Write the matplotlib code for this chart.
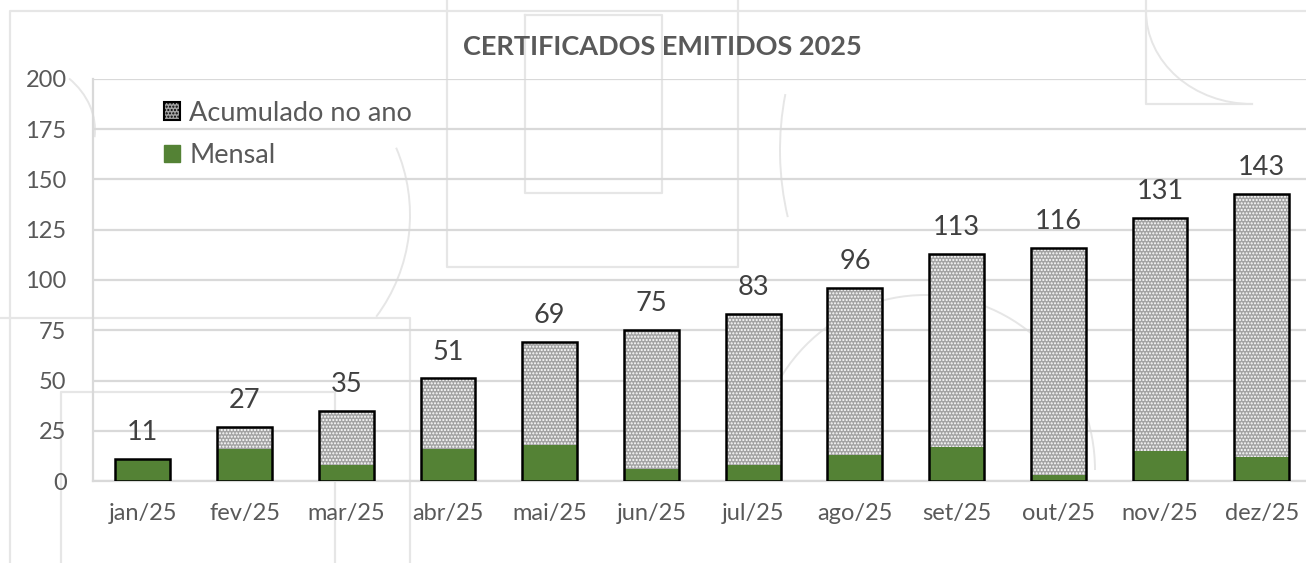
import numpy as np
import matplotlib.pyplot as plt
from matplotlib.lines import Line2D
from matplotlib.patches import Arc, Patch

# data
months = ["jan/25", "fev/25", "mar/25", "abr/25", "mai/25", "jun/25",
          "jul/25", "ago/25", "set/25", "out/25", "nov/25", "dez/25"]
acumulado = [11, 27, 35, 51, 69, 75, 83, 96, 113, 116, 131, 143]
mensal = [11, 16, 8, 16, 18, 6, 8, 13, 17, 3, 15, 12]
yticks = [0, 25, 50, 75, 100, 125, 150, 175, 200]

TXT = "#595959"
GRID = "#d9d9d9"
WM = "#e6e6e6"
GREEN = "#548235"
HATCH_BG = "#a3a3a3"
W, H = 1306, 563

plt.rcParams["font.family"] = ["Lato", "DejaVu Sans"]
plt.rcParams["hatch.linewidth"] = 1.0

fig = plt.figure(figsize=(W / 100, H / 100), dpi=100)
fig.patch.set_facecolor("white")


def px(x, y):
    return x / W, 1 - y / H


def wm_line(pts):
    xs, ys = zip(*[px(x, y) for x, y in pts])
    fig.add_artist(Line2D(xs, ys, transform=fig.transFigure, color=WM,
                          lw=1.6, zorder=-1))


def wm_arc(cx, cy, rx, ry, t1, t2):
    c = px(cx, cy)
    fig.add_artist(Arc(c, 2 * rx / W, 2 * ry / H, theta1=t1, theta2=t2,
                       transform=fig.transFigure, color=WM, lw=1.4, zorder=-1))


# faint watermark in the background
wm_line([(10, 563), (10, 11), (1306, 11)])
wm_line([(447, 0), (447, 267), (738, 267), (738, 0)])
wm_line([(525, 15), (662, 15), (662, 193), (525, 193), (525, 15)])
wm_line([(0, 318), (410, 318), (410, 563)])
wm_line([(61, 563), (61, 392), (335, 392), (335, 563)])
wm_line([(1146, 0), (1146, 104), (1252, 104)])
wm_arc(1252, 11, 106, 93, 180, 270)
wm_arc(1010, 150, 230, 260, 150, 215)
wm_arc(925, 470, 170, 175, 0, 180)
wm_arc(240, 215, 170, 170, -60, 45)
wm_arc(0, 130, 95, 75, -10, 60)

# plot area
x0, y0 = px(93, 481)
x1, y1 = px(1306, 79)
ax = fig.add_axes([x0, y0, x1 - x0, y1 - y0])
ax.patch.set_visible(False)

x = np.arange(len(months))
bw = 0.54
ax.bar(x, acumulado, width=bw, color=HATCH_BG, edgecolor="white",
       hatch=".....", lw=0, zorder=2)
ax.bar(x, mensal, width=bw, color=GREEN, lw=0, zorder=3)
ax.bar(x, acumulado, width=bw, facecolor="none", edgecolor="black",
       lw=1.8, zorder=4)

for xi, v in zip(x, acumulado):
    ax.annotate(str(v), (xi, v), xytext=(0, 19), textcoords="offset points",
                ha="center", va="center", fontsize=19.5, color="#404040")

ax.set_xlim(-0.49, 11.435)
ax.set_ylim(0, 200)
ax.set_yticks(yticks)
ax.set_xticks(x)
ax.set_xticklabels(months)
ax.tick_params(axis="both", length=0, labelsize=17, colors=TXT)
ax.tick_params(axis="x", pad=16)
ax.tick_params(axis="y", pad=19)
ax.grid(axis="y", color=GRID, lw=1.6, zorder=0)
ax.set_axisbelow(True)
for s in ["top", "right"]:
    ax.spines[s].set_visible(False)
for s in ["left", "bottom"]:
    ax.spines[s].set_color(GRID)
    ax.spines[s].set_linewidth(1.6)

handles = [Patch(facecolor=HATCH_BG, edgecolor="black", hatch=".....", lw=1.5),
           Patch(facecolor=GREEN, edgecolor=GREEN)]
leg = ax.legend(handles, ["Acumulado no ano", "Mensal"], loc="upper left",
                bbox_to_anchor=(0.047, 0.98), frameon=False, fontsize=19.5,
                borderpad=0, handlelength=0.6, handleheight=0.6,
                handletextpad=0.35, labelspacing=0.64, labelcolor=TXT)

fig.text(662 / W, 1 - 47 / H, "CERTIFICADOS EMITIDOS 2025", ha="center",
         va="center", fontsize=19.5, fontweight="bold", color=TXT)

fig.savefig("out.png", dpi=100, facecolor="white")
